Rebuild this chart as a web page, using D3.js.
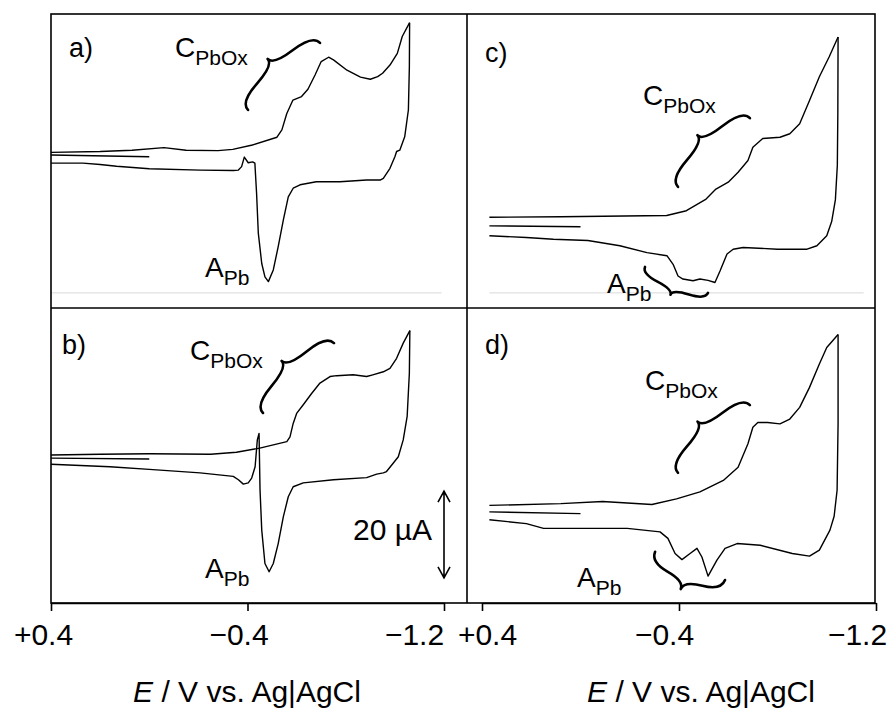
<!DOCTYPE html>
<html>
<head>
<meta charset="utf-8">
<script src="https://cdn.jsdelivr.net/npm/d3@7"></script>
<style>
  body { margin: 0; background: #fff; }
  text { font-family: "Liberation Sans", Arial, sans-serif; fill: #000; }
</style>
</head>
<body>
<svg id="chart" width="896" height="713"></svg>
<script>
// potentials in V vs. Ag|AgCl, currents in µA (cathodic plotted upwards)
var ticks = [0.4, -0.4, -1.2];
var tickLabels = ["+0.4", "\u22120.4", "\u22121.2"];

// a)
var aInit = [[0.0, 0.0], [0.40, 0.4]];
var aFwd = [[0.40,1.0],[0.20,1.2],[0.07,1.5],[-0.06,2.1],[-0.15,1.5],[-0.28,1.4],[-0.34,1.7],[-0.42,2.7],[-0.52,4.5],[-0.54,6.2],[-0.56,10.0],[-0.585,13.1],[-0.62,13.9],[-0.646,15.6],[-0.675,18.9],[-0.70,22.0],[-0.73,23.0],[-0.75,22.4],[-0.805,20.0],[-0.86,18.4],[-0.90,17.9],[-0.93,18.5],[-0.95,19.3],[-0.98,21.2],[-1.01,23.9],[-1.03,27.8],[-1.06,31.0]];
var aRev = [[-1.06,31.0],[-1.059,20.8],[-1.055,10.8],[-1.04,4.6],[-1.02,1.5],[-1.007,1.2],[-1.0,0],[-0.98,-2.7],[-0.953,-5.0],[-0.94,-5.4],[-0.885,-5.4],[-0.776,-5.8],[-0.68,-5.8],[-0.614,-6.5],[-0.586,-7.3],[-0.566,-9.3],[-0.546,-14.6],[-0.525,-20.8],[-0.505,-26.2],[-0.485,-28.9],[-0.471,-27.8],[-0.458,-24.7],[-0.444,-17.7],[-0.437,-8.5],[-0.43,-1.5],[-0.421,-1.2],[-0.403,-1.4],[-0.387,-0.1],[-0.376,-2.3],[-0.363,-3.1],[-0.342,-3.2],[-0.207,-3.1],[0.0,-2.8],[0.133,-2.2],[0.20,-1.8],[0.27,-1.5],[0.40,-1.5]];

// b)
var bInit = [[0.0, -1.8], [0.40, -1.6]];
var bFwd = [[0.40,-0.9],[0.20,-0.7],[0.0,-0.6],[-0.25,-0.7],[-0.355,-0.25],[-0.45,0.7],[-0.56,2.2],[-0.573,3.3],[-0.586,6.4],[-0.60,8.7],[-0.627,10.7],[-0.661,13.3],[-0.695,15.7],[-0.736,17.2],[-0.763,17.4],[-0.83,17.6],[-0.885,17.2],[-0.91,17.6],[-0.953,18.3],[-0.98,19.1],[-1.007,21.4],[-1.034,24.9],[-1.061,27.8]];
var bRev = [[-1.061,27.8],[-1.059,18.0],[-1.05,8.0],[-1.034,2.6],[-1.014,-1.3],[-0.993,-2.8],[-0.966,-4.7],[-0.953,-5.0],[-0.926,-5.3],[-0.885,-6.1],[-0.75,-6.6],[-0.627,-7.3],[-0.586,-8.2],[-0.566,-10.5],[-0.546,-15.1],[-0.525,-21.3],[-0.505,-25.9],[-0.488,-27.8],[-0.471,-25.9],[-0.458,-18.2],[-0.451,-8.9],[-0.447,4.1],[-0.44,2.6],[-0.431,-3.6],[-0.417,-6.2],[-0.403,-7.3],[-0.383,-7.6],[-0.363,-6.6],[-0.342,-5.8],[-0.207,-5.0],[0.0,-4.2],[0.16,-3.6],[0.40,-3.0]];

// c)
var cInit = [[0.0, -16.2], [0.37, -16.0]];
var cFwd = [[0.37,-14.0],[0.08,-13.9],[-0.35,-13.6],[-0.43,-12.5],[-0.51,-9.8],[-0.55,-7.5],[-0.60,-5.9],[-0.64,-3.6],[-0.68,-0.9],[-0.70,2.2],[-0.74,4.2],[-0.81,4.5],[-0.85,5.3],[-0.89,7.6],[-0.93,13.0],[-0.97,18.5],[-1.01,23.1],[-1.046,27.7]];
var cRev = [[-1.046,27.7],[-1.045,10],[-1.043,-2],[-1.035,-10],[-1.02,-15],[-1.0,-18.3],[-0.96,-20.6],[-0.92,-21.4],[-0.80,-21.4],[-0.66,-21.0],[-0.62,-21.4],[-0.595,-22.5],[-0.567,-26.4],[-0.546,-29.1],[-0.518,-28.6],[-0.485,-28.3],[-0.457,-28.7],[-0.416,-28.3],[-0.396,-27.6],[-0.376,-24.9],[-0.351,-22.9],[-0.27,-22.2],[-0.16,-20.6],[-0.03,-19.4],[0.11,-19.1],[0.22,-18.7],[0.37,-18.3]];

// d)
var dInit = [[0.0, -14.4], [0.37, -14.0]];
var dFwd = [[0.37,-12.5],[0.08,-12.1],[-0.09,-11.6],[-0.29,-12.3],[-0.39,-11.0],[-0.485,-9.4],[-0.58,-6.75],[-0.64,-3.7],[-0.68,1.7],[-0.70,5.5],[-0.72,6.6],[-0.76,6.6],[-0.81,6.3],[-0.85,7.4],[-0.89,10.1],[-0.93,14.7],[-0.97,20.1],[-1.0,23.9],[-1.046,26.9]];
var dRev = [[-1.046,26.9],[-1.046,6.3],[-1.042,-9.0],[-1.03,-15],[-1.013,-18.2],[-0.97,-22.8],[-0.93,-24.2],[-0.86,-23.6],[-0.73,-21.7],[-0.636,-21.3],[-0.587,-22.4],[-0.554,-25.1],[-0.518,-28.8],[-0.493,-24.4],[-0.473,-22.4],[-0.445,-23.6],[-0.412,-25.0],[-0.384,-23.6],[-0.355,-20.1],[-0.323,-18.6],[-0.19,-17.8],[0.08,-17.8],[0.15,-17.8],[0.22,-16.7],[0.37,-15.8]];

// annotation anchors, in (E, I)
var cLabels = [[-0.105, 23.1], [-0.166, 21.0], [-0.254, 12.0], [-0.262, 14.1]];
var aLabels = [[-0.227, -27.8], [-0.227, -29.2], [-0.108, -31.5], [0.014, -31.3]];
var cBraces = [[-0.695, 26.3, -0.402, 10.8], [-0.752, 24.9, -0.463, 8.8], [-0.688, 8.9, -0.396, -7.0], [-0.688, 10.6, -0.396, -5.0]];
var aBraces = [null, null, [-0.262, -25.5, -0.518, -31.5], [-0.303, -23.2, -0.587, -29.7]];
var scaleBar = [-1.2, -29.2, -9.2]; // E, I from, I to (20 µA)

var panels = [
  { name: "a)", col: 0, row: 0, init: aInit, fwd: aFwd, rev: aRev, lab: [69, 57], aw: 0 },
  { name: "b)", col: 0, row: 1, init: bInit, fwd: bFwd, rev: bRev, lab: [62, 354], aw: 0 },
  { name: "c)", col: 1, row: 0, init: cInit, fwd: cFwd, rev: cRev, lab: [485, 62], aw: 16 },
  { name: "d)", col: 1, row: 1, init: dInit, fwd: dFwd, rev: dRev, lab: [485, 354], aw: 25 }
];

var svg = d3.select("#chart");
var frame = { left: 51, mid: 467, right: 875, top: 14, midY: 308, bottom: 603 };

var xScales = [
  d3.scaleLinear().domain([0.4, -1.2]).range([51, 444]),
  d3.scaleLinear().domain([0.4, -1.2]).range([482, 876])
];
var yScales = [
  d3.scaleLinear().domain([-35, 33]).range([frame.midY, frame.top]),
  d3.scaleLinear().domain([-35, 33]).range([frame.bottom, frame.midY])
];

function brace(x1, y1, x2, y2, w, q) {
  var dx = x1 - x2, dy = y1 - y2, len = Math.sqrt(dx * dx + dy * dy);
  dx /= len; dy /= len;
  var qx1 = x1 + q * w * dy, qy1 = y1 - q * w * dx;
  var qx2 = (x1 - .25 * len * dx) + (1 - q) * w * dy, qy2 = (y1 - .25 * len * dy) - (1 - q) * w * dx;
  var tx = (x1 - .5 * len * dx) + w * dy, ty = (y1 - .5 * len * dy) - w * dx;
  var qx3 = x2 + q * w * dy, qy3 = y2 - q * w * dx;
  var qx4 = (x1 - .75 * len * dx) + (1 - q) * w * dy, qy4 = (y1 - .75 * len * dy) - (1 - q) * w * dx;
  return "M" + x1 + "," + y1 + "Q" + qx1 + "," + qy1 + " " + qx2 + "," + qy2 + "T" + tx + "," + ty +
    "M" + x2 + "," + y2 + "Q" + qx3 + "," + qy3 + " " + qx4 + "," + qy4 + "T" + tx + "," + ty;
}

function subLabel(g, x, y, main, sub) {
  var t = g.append("text").attr("x", x).attr("y", y).attr("font-size", 28);
  t.append("tspan").text(main);
  t.append("tspan").attr("dy", 8).attr("font-size", 21).text(sub);
}

// faint zero lines left in the upper plots
[[0, 0.4, -1.19, -31.5], [1, 0.37, -1.15, -31.5]].forEach(function (l) {
  svg.append("line")
    .attr("x1", xScales[l[0]](l[1])).attr("x2", xScales[l[0]](l[2]))
    .attr("y1", yScales[0](l[3])).attr("y2", yScales[0](l[3]))
    .attr("stroke", "#d9d9d9").attr("stroke-width", 1);
});

panels.forEach(function (p, i) {
  var x = xScales[p.col], y = yScales[p.row];
  var g = svg.append("g");
  var line = d3.line().x(function (d) { return x(d[0]); }).y(function (d) { return y(d[1]); });

  [p.init, p.fwd, p.rev].forEach(function (s) {
    g.append("path").attr("d", line(s))
      .attr("fill", "none").attr("stroke", "#000").attr("stroke-width", 1.4)
      .attr("stroke-linejoin", "round");
  });

  g.append("text").attr("x", p.lab[0]).attr("y", p.lab[1]).attr("font-size", 27).text(p.name);

  subLabel(g, x(cLabels[i][0]), y(cLabels[i][1]), "C", "PbOx");
  subLabel(g, x(aLabels[i][0]), y(aLabels[i][1]), "A", "Pb");

  var b = cBraces[i];
  g.append("path").attr("d", brace(x(b[0]), y(b[1]), x(b[2]), y(b[3]), 24, 0.45))
    .attr("fill", "none").attr("stroke", "#000").attr("stroke-width", 2.6)
    .attr("stroke-linecap", "round");
  if (aBraces[i]) {
    b = aBraces[i];
    g.append("path").attr("d", brace(x(b[0]), y(b[1]), x(b[2]), y(b[3]), p.aw, 0.45))
      .attr("fill", "none").attr("stroke", "#000").attr("stroke-width", 2.6)
      .attr("stroke-linecap", "round");
  }
});

// 20 µA scale bar in panel b
var sx = xScales[0](scaleBar[0]), sy1 = yScales[1](scaleBar[1]), sy2 = yScales[1](scaleBar[2]);
svg.append("path")
  .attr("d", "M" + sx + "," + sy1 + "L" + sx + "," + sy2 +
    "M" + (sx - 6) + "," + (sy2 + 11) + "L" + sx + "," + sy2 + "L" + (sx + 6) + "," + (sy2 + 11) +
    "M" + (sx - 6) + "," + (sy1 - 11) + "L" + sx + "," + sy1 + "L" + (sx + 6) + "," + (sy1 - 11))
  .attr("fill", "none").attr("stroke", "#000").attr("stroke-width", 1.6);
svg.append("text").attr("x", sx - 12).attr("y", (sy1 + sy2) / 2 + 6)
  .attr("text-anchor", "end").attr("font-size", 30).text("20 \u00b5A");

// frame
svg.append("rect").attr("x", frame.left).attr("y", frame.top)
  .attr("width", frame.right - frame.left).attr("height", frame.bottom - frame.top)
  .attr("fill", "none").attr("stroke", "#000").attr("stroke-width", 1.6);
svg.append("line").attr("x1", frame.mid).attr("x2", frame.mid).attr("y1", frame.top).attr("y2", frame.bottom)
  .attr("stroke", "#000").attr("stroke-width", 1.6);
svg.append("line").attr("x1", frame.left).attr("x2", frame.right).attr("y1", frame.midY).attr("y2", frame.midY)
  .attr("stroke", "#000").attr("stroke-width", 1.6);

// x axes
var labelDx = [[-8, -9, -30], [5, -15, -19]];
xScales.forEach(function (x, c) {
  var ax = svg.append("g").attr("transform", "translate(0," + frame.bottom + ")")
    .call(d3.axisBottom(x).tickValues(ticks).tickSize(8).tickSizeOuter(0)
      .tickFormat(function (d, i) { return tickLabels[i]; }));
  ax.select(".domain").attr("stroke", "#000").attr("stroke-width", 1.6);
  ax.selectAll(".tick line").attr("stroke", "#000").attr("stroke-width", 1.6);
  ax.selectAll(".tick text")
    .attr("y", 42).attr("dy", null)
    .attr("dx", function (d, i) { return labelDx[c][i]; })
    .attr("font-size", 30).attr("font-family", "Liberation Sans, Arial, sans-serif")
    .attr("fill", "#000");

  var title = svg.append("text")
    .attr("x", c === 0 ? 247 : 701).attr("y", 702)
    .attr("text-anchor", "middle").attr("font-size", 30);
  title.append("tspan").attr("font-style", "italic").text("E");
  title.append("tspan").text(" / V vs. Ag|AgCl");
});
</script>
</body>
</html>
